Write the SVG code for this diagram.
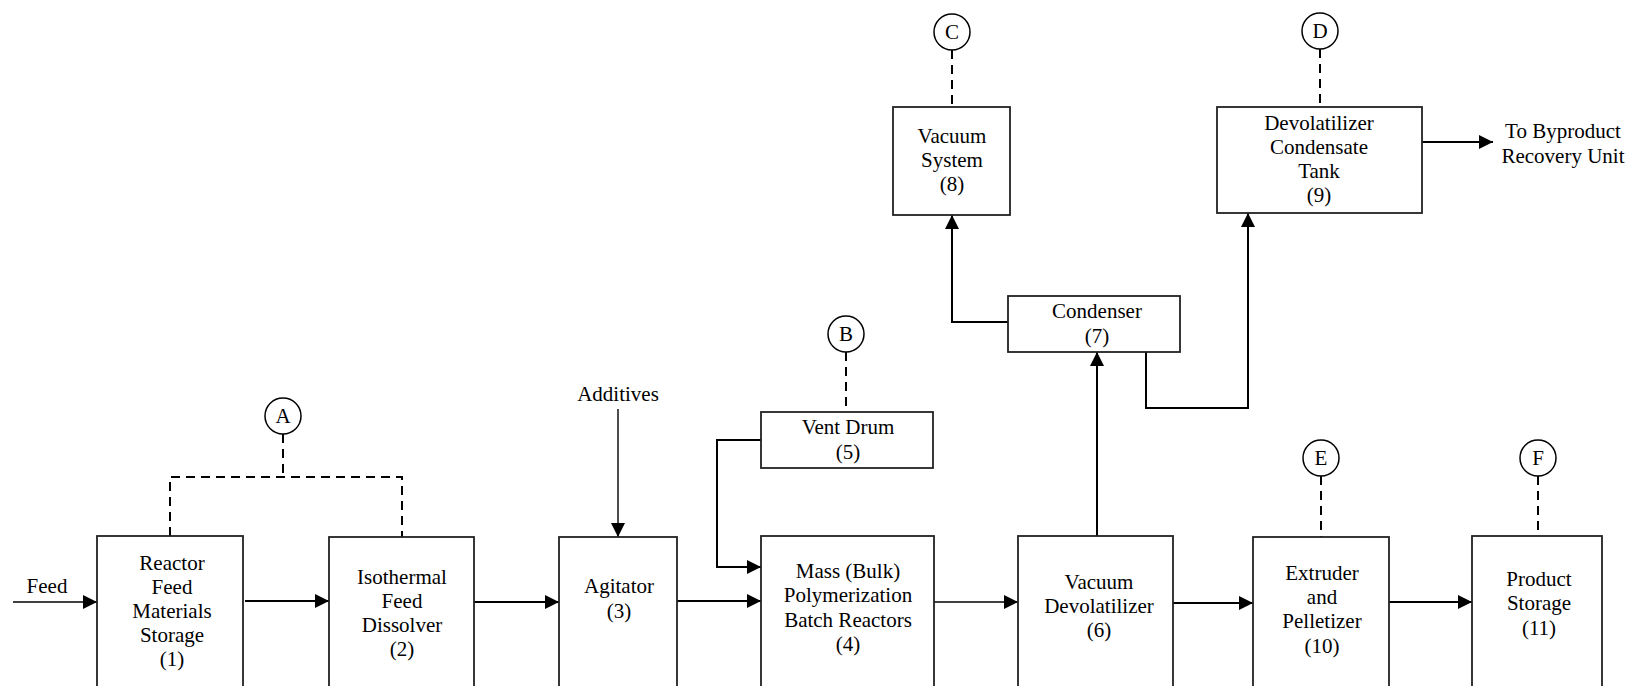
<svg xmlns="http://www.w3.org/2000/svg" width="1629" height="686" viewBox="0 0 1629 686">
  <defs>
    <marker id="arrow" markerUnits="userSpaceOnUse" markerWidth="14" markerHeight="14" refX="14" refY="7" orient="auto">
      <path d="M0,0 L14,7 L0,14 Z" fill="#000"/>
    </marker>
    <style>
      .box { fill: #fff; stroke: #222; stroke-width: 1.8; }
      .tag { fill: #fff; stroke: #000; stroke-width: 1.5; }
      .label { font-family: "Liberation Serif", "Times New Roman", serif; font-size: 21px; fill: #000; text-anchor: middle; }
      .flow { fill: none; stroke: #000; stroke-width: 2; }
      .thin { fill: none; stroke: #000; stroke-width: 1.4; }
      .dash { fill: none; stroke: #000; stroke-width: 2; stroke-dasharray: 9 6; }
      .arrow { marker-end: url(#arrow); }
    </style>
  </defs>
  <rect width="1629" height="686" fill="#fff"/>

  <!-- process flow lines -->
  <g id="connectors">
    <line class="thin arrow" x1="13" y1="602" x2="97" y2="602"/>
    <line class="flow arrow" x1="245" y1="601" x2="329" y2="601"/>
    <line class="flow arrow" x1="474" y1="602" x2="559" y2="602"/>
    <line class="thin arrow" x1="618" y1="409" x2="618" y2="537"/>
    <line class="flow arrow" x1="677" y1="601" x2="761" y2="601"/>
    <polyline class="flow arrow" points="761,440 717,440 717,567 761,567"/>
    <line class="thin arrow" x1="934" y1="602" x2="1018" y2="602"/>
    <line class="flow arrow" x1="1097" y1="536" x2="1097" y2="352"/>
    <polyline class="flow arrow" points="1008,322 952,322 952,215"/>
    <polyline class="flow arrow" points="1146,352 1146,408 1248,408 1248,213"/>
    <line class="flow arrow" x1="1422" y1="142" x2="1493" y2="142"/>
    <line class="flow arrow" x1="1173" y1="603" x2="1253" y2="603"/>
    <line class="flow arrow" x1="1389" y1="602" x2="1472" y2="602"/>

    <!-- emission point tie-ins -->
    <line class="dash" x1="283" y1="434" x2="283" y2="477"/>
    <polyline class="dash" points="170,536 170,477 402,477 402,537"/>
    <line class="dash" x1="846" y1="352" x2="846" y2="412"/>
    <line class="dash" x1="952" y1="50" x2="952" y2="107"/>
    <line class="dash" x1="1320" y1="49" x2="1320" y2="107"/>
    <line class="dash" x1="1321" y1="476" x2="1321" y2="537"/>
    <line class="dash" x1="1538" y1="476" x2="1538" y2="536"/>
  </g>

  <!-- stream labels -->
  <g id="feed">
    <text class="label" x="47" y="593">Feed</text>
  </g>
  <g id="additives">
    <text class="label" x="618" y="401">Additives</text>
  </g>
  <g id="byproduct">
    <text class="label" x="1563" y="138">To Byproduct</text>
    <text class="label" x="1563" y="163">Recovery Unit</text>
  </g>

  <!-- process units -->
  <g id="unit1">
    <rect class="box" x="97" y="536" width="146" height="170"/>
    <text class="label" x="172" y="570">Reactor</text>
    <text class="label" x="172" y="594">Feed</text>
    <text class="label" x="172" y="618">Materials</text>
    <text class="label" x="172" y="642">Storage</text>
    <text class="label" x="172" y="666">(1)</text>
  </g>
  <g id="unit2">
    <rect class="box" x="329" y="537" width="145" height="170"/>
    <text class="label" x="402" y="584">Isothermal</text>
    <text class="label" x="402" y="608">Feed</text>
    <text class="label" x="402" y="632">Dissolver</text>
    <text class="label" x="402" y="656">(2)</text>
  </g>
  <g id="unit3">
    <rect class="box" x="559" y="537" width="118" height="170"/>
    <text class="label" x="619" y="593">Agitator</text>
    <text class="label" x="619" y="618">(3)</text>
  </g>
  <g id="unit4">
    <rect class="box" x="761" y="536" width="173" height="170"/>
    <text class="label" x="848" y="578">Mass (Bulk)</text>
    <text class="label" x="848" y="602">Polymerization</text>
    <text class="label" x="848" y="627">Batch Reactors</text>
    <text class="label" x="848" y="651">(4)</text>
  </g>
  <g id="unit5">
    <rect class="box" x="761" y="412" width="172" height="56"/>
    <text class="label" x="848" y="434">Vent Drum</text>
    <text class="label" x="848" y="459">(5)</text>
  </g>
  <g id="unit6">
    <rect class="box" x="1018" y="536" width="155" height="170"/>
    <text class="label" x="1099" y="589">Vacuum</text>
    <text class="label" x="1099" y="613">Devolatilizer</text>
    <text class="label" x="1099" y="637">(6)</text>
  </g>
  <g id="unit7">
    <rect class="box" x="1008" y="296" width="172" height="56"/>
    <text class="label" x="1097" y="318">Condenser</text>
    <text class="label" x="1097" y="343">(7)</text>
  </g>
  <g id="unit8">
    <rect class="box" x="893" y="107" width="117" height="108"/>
    <text class="label" x="952" y="143">Vacuum</text>
    <text class="label" x="952" y="167">System</text>
    <text class="label" x="952" y="191">(8)</text>
  </g>
  <g id="unit9">
    <rect class="box" x="1217" y="107" width="205" height="106"/>
    <text class="label" x="1319" y="130">Devolatilizer</text>
    <text class="label" x="1319" y="154">Condensate</text>
    <text class="label" x="1319" y="178">Tank</text>
    <text class="label" x="1319" y="202">(9)</text>
  </g>
  <g id="unit10">
    <rect class="box" x="1253" y="537" width="136" height="170"/>
    <text class="label" x="1322" y="580">Extruder</text>
    <text class="label" x="1322" y="604">and</text>
    <text class="label" x="1322" y="628">Pelletizer</text>
    <text class="label" x="1322" y="653">(10)</text>
  </g>
  <g id="unit11">
    <rect class="box" x="1472" y="536" width="130" height="170"/>
    <text class="label" x="1539" y="586">Product</text>
    <text class="label" x="1539" y="610">Storage</text>
    <text class="label" x="1539" y="635">(11)</text>
  </g>

  <!-- emission point markers -->
  <g id="tagA">
    <circle class="tag" cx="283" cy="416" r="18"/>
    <text class="label" x="283" y="423">A</text>
  </g>
  <g id="tagB">
    <circle class="tag" cx="846" cy="334" r="18"/>
    <text class="label" x="846" y="341">B</text>
  </g>
  <g id="tagC">
    <circle class="tag" cx="952" cy="32" r="18"/>
    <text class="label" x="952" y="39">C</text>
  </g>
  <g id="tagD">
    <circle class="tag" cx="1320" cy="31" r="18"/>
    <text class="label" x="1320" y="38">D</text>
  </g>
  <g id="tagE">
    <circle class="tag" cx="1321" cy="458" r="18"/>
    <text class="label" x="1321" y="465">E</text>
  </g>
  <g id="tagF">
    <circle class="tag" cx="1538" cy="458" r="18"/>
    <text class="label" x="1538" y="465">F</text>
  </g>
</svg>
